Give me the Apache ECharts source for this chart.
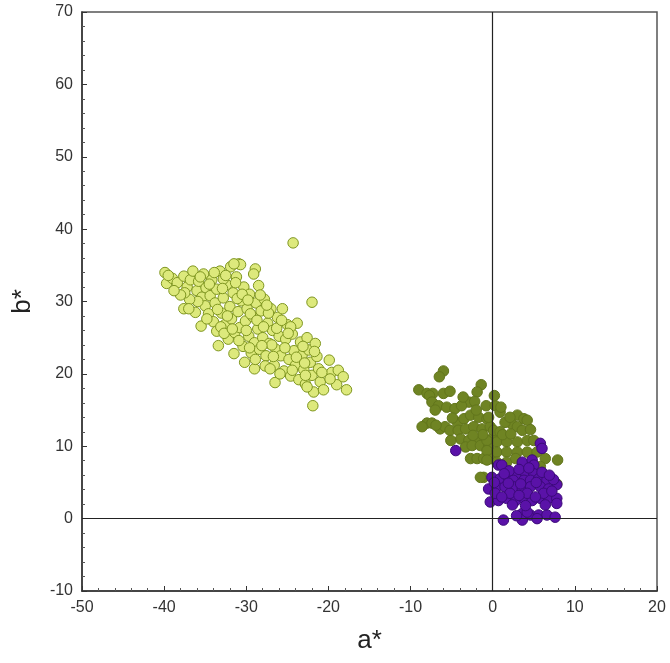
<!DOCTYPE html>
<html>
<head>
<meta charset="utf-8">
<script src="https://cdn.jsdelivr.net/npm/echarts@6/dist/echarts.min.js"></script>
<style>
  html, body { margin: 0; padding: 0; background: #fff; }
  #main { width: 670px; height: 663px; }
</style>
</head>
<body>
<div id="main"></div>
<script>
// axis ticks
var xTicks = [-50, -40, -30, -20, -10, 0, 10, 20];
var yTicks = [-10, 0, 10, 20, 30, 40, 50, 60, 70];

// light yellow-green group [a*, b*]
var yellowPts = [
    [-39.9,34.0],[-39.7,32.5],[-39.0,33.2],[-38.4,32.6],[-37.6,33.5],[-37.2,32.0],[-36.8,33.0],[-36.5,34.2],
    [-36.0,31.5],[-35.8,32.8],[-35.4,30.6],[-35.2,33.8],[-35.0,29.4],[-34.9,31.9],[-34.6,28.3],[-34.4,30.8],
    [-34.2,33.0],[-34.0,27.2],[-33.8,29.8],[-33.6,31.7],[-33.6,25.9],[-35.5,26.6],[-36.2,28.5],[-35.9,30.0],
    [-36.9,30.3],[-37.5,31.2],[-38.0,30.9],[-37.6,29.0],[-37.0,29.0],[-38.8,31.5],[-39.5,33.6],
    [-33.2,34.2],[-33.0,28.4],[-32.8,30.5],[-32.6,26.8],[-32.4,32.3],[-32.2,24.8],[-32.0,29.3],[-31.8,27.6],
    [-31.6,31.2],[-31.4,25.7],[-31.2,33.4],[-31.0,28.6],[-30.9,35.2],[-30.8,26.4],[-30.6,30.1],[-30.4,23.8],
    [-30.3,32.0],[-30.1,27.3],[-29.9,29.0],[-29.7,25.2],[-29.6,31.0],[-29.4,22.9],[-29.2,27.9],[-29.0,24.3],
    [-28.9,34.5],[-28.8,29.8],[-28.6,26.2],[-28.4,23.4],[-28.2,28.7],[-28.0,25.0],[-27.8,30.3],[-27.6,22.5],
    [-27.4,27.0],[-27.2,24.2],[-27.0,29.0],[-26.8,26.0],[-26.6,21.2],[-26.4,23.4],[-26.2,27.8],[-26.0,25.2],
    [-32.8,33.1],[-31.5,22.8],[-30.2,21.6],[-33.4,23.9],[-29.0,20.7],[-28.5,32.2],[-27.7,21.1],[-31.9,34.8],
    [-30.7,35.1],[-29.1,33.8],[-31.5,35.2],[-34.8,27.6],[-33.1,26.5],[-32.3,28.0],[-31.1,30.4],[-30.0,26.0],
    [-29.5,28.3],[-28.7,27.4],[-27.9,26.5],[-27.3,28.4],[-26.9,24.0],[-26.3,26.3],[-32.9,31.8],[-34.5,32.4],
    [-33.9,34.0],[-35.6,33.4],[-32.5,33.6],[-31.3,32.6],[-30.5,31.0],[-29.8,30.2],[-28.3,30.9],[-27.5,29.5],
    [-33.5,28.9],[-32.7,25.6],[-31.7,26.2],[-30.9,24.6],[-29.6,23.6],[-28.9,22.0],[-28.1,23.9],
    [-25.8,22.5],[-25.6,29.0],[-25.4,20.4],[-25.2,24.8],[-25.0,26.8],[-24.8,22.0],[-24.6,19.7],[-24.4,25.5],
    [-24.2,23.2],[-24.0,21.2],[-23.8,27.0],[-23.6,19.2],[-23.4,24.4],[-23.2,22.6],[-23.0,20.6],[-22.8,18.6],
    [-22.6,25.0],[-22.4,23.3],[-22.2,21.6],[-22.0,29.9],[-22.0,19.8],[-21.8,17.5],[-21.9,15.6],[-21.6,24.2],
    [-21.4,22.4],[-21.2,20.7],[-21.0,18.9],[-20.6,17.8],[-19.9,21.9],[-19.6,20.2],[-19.0,18.5],[-18.8,20.5],
    [-18.2,19.6],[-17.8,17.8],[-19.8,19.3],[-22.6,18.2],[-24.3,38.1],[-26.5,18.8],[-25.9,20.0],[-24.6,26.5],
    [-27.1,20.7],[-24.4,20.5],[-22.8,19.8],[-25.3,23.6],[-24.9,25.6],[-23.9,22.3],[-23.1,23.8],[-25.7,27.4],
    [-26.7,22.4],[-22.9,21.5],[-21.7,23.1],[-20.8,20.2]
];

// olive group
var olivePts = [
    [-6.0,20.4],[-6.5,19.6],[-9.0,17.8],[-8.0,17.3],[-7.3,17.3],[-6.0,17.3],[-5.2,17.6],[-1.4,18.5],
    [-1.9,17.5],[-7.7,17.0],[-7.4,16.1],[-6.6,15.6],[-5.6,15.4],[-4.6,15.2],[-2.9,16.1],[-2.2,16.2],
    [-0.8,15.6],[0.3,15.6],[-7.0,15.0],[-8.0,13.2],[-7.4,13.2],[-6.4,12.4],[-5.8,12.7],[-5.2,12.2],
    [-4.3,13.3],[-3.5,13.8],[-2.7,14.3],[-1.7,14.0],[-0.7,13.8],[-4.2,12.2],[-3.3,12.4],[-2.3,12.7],
    [-1.3,12.4],[-0.3,12.7],[-3.9,11.0],[-2.9,10.8],[-1.9,10.6],[-0.9,10.8],[0.1,11.3],[-3.3,9.9],
    [-2.5,10.1],[-1.5,10.1],[-0.5,9.9],[-2.7,8.3],[-1.9,8.3],[-1.1,8.3],[-0.3,8.3],[0.9,14.7],
    [-0.5,14.0],[3.0,14.3],[3.8,13.8],[4.2,13.6],[2.3,13.1],[1.5,13.3],[3.0,12.7],[3.6,12.2],
    [0.1,12.2],[0.9,12.0],[-0.7,10.8],[0.5,10.6],[1.7,10.6],[3.0,10.6],[4.2,10.8],[5.0,10.8],
    [-0.7,9.4],[0.5,9.2],[1.7,9.2],[3.0,9.2],[4.2,9.2],[5.4,9.2],[6.4,8.3],[7.9,8.1],
    [-0.7,8.1],[0.5,7.8],[1.7,7.8],[2.8,8.3],[7.0,5.7],[-1.1,5.7],[7.8,4.8],[-1.5,5.7],
    [-4.9,13.9],[-6.9,12.9],[-3.8,15.6],[-2.0,15.0],[1.2,11.6],[2.2,11.7],[-1.2,11.6],[-2.4,11.5],
    [1.0,15.4],[2.1,14.0],[4.6,12.3],[-5.1,10.8],[-3.6,16.8],[0.2,17.0],[-8.6,12.7],[5.8,7.2]
];

// purple group
var purplePts = [
    [-4.5,9.4],[0.7,7.4],[5.8,10.4],[6.0,9.7],[1.1,7.4],[3.6,7.8],[4.8,8.1],[5.0,7.4],
    [-0.1,5.7],[0.9,5.5],[1.9,5.7],[3.0,6.0],[4.0,6.2],[5.0,6.2],[2.5,5.3],[3.8,5.3],
    [4.6,5.3],[5.6,5.5],[6.6,5.3],[7.8,4.7],[-0.5,4.1],[0.5,4.4],[1.5,4.4],[2.5,4.4],
    [3.6,4.1],[4.6,4.4],[5.8,4.4],[6.8,4.1],[-0.3,2.3],[0.7,2.5],[1.7,2.8],[2.8,2.5],
    [3.8,2.8],[4.8,2.5],[5.8,2.8],[6.8,2.8],[7.8,2.8],[0.3,3.5],[2.1,3.5],[4.2,3.5],
    [6.2,3.5],[7.8,2.1],[1.3,-0.2],[3.6,0.7],[3.6,-0.2],[4.6,0.5],[5.6,0.5],[6.6,0.5],
    [7.6,0.2],[4.2,0.9],[2.0,6.6],[3.2,6.8],[4.4,7.0],[6.0,6.4],[1.4,6.2],[7.2,3.8],
    [5.2,3.0],[3.2,3.2],[1.1,3.0],[6.4,1.9],[2.4,1.9],[4.0,1.8],[5.3,5.0],[3.4,4.8],
    [1.9,4.9],[0.2,5.0],[7.4,5.4],[5.4,0.0],[2.9,0.4],[6.9,6.0]
];

var chart = echarts.init(document.getElementById('main'));

var txt = { color: '#333', fontFamily: 'Liberation Sans, Arial, sans-serif', fontSize: 16 };

var option = {
    backgroundColor: '#fff',
    animation: false,
    grid: {
        left: 82, right: 13, top: 12, bottom: 72,
        show: true, borderColor: '#555', borderWidth: 1.5
    },
    xAxis: {
        type: 'value', min: -50, max: 20, interval: 10,
        name: 'a*', nameLocation: 'middle', nameGap: 37,
        nameTextStyle: { color: '#222', fontFamily: 'Liberation Sans, Arial, sans-serif', fontSize: 26 },
        axisLine: { show: true, onZero: false, lineStyle: { color: '#333', width: 1.5 } },
        axisTick: { show: true, inside: true, length: 5, lineStyle: { color: '#333' } },
        minorTick: { show: true, splitNumber: 5, length: 3, lineStyle: { color: '#555' } },
        splitLine: { show: false },
        axisLabel: Object.assign({ margin: 9, formatter: function (v) { return xTicks.indexOf(v) >= 0 ? String(v) : ''; } }, txt)
    },
    yAxis: {
        type: 'value', min: -10, max: 70, interval: 10,
        name: 'b*', nameLocation: 'middle', nameGap: 46, nameRotate: 90,
        nameTextStyle: { color: '#222', fontFamily: 'Liberation Sans, Arial, sans-serif', fontSize: 26 },
        axisLine: { show: true, onZero: false, lineStyle: { color: '#333', width: 1.5 } },
        axisTick: { show: true, inside: true, length: 5, lineStyle: { color: '#333' } },
        minorTick: { show: true, splitNumber: 5, length: 3, lineStyle: { color: '#555' } },
        splitLine: { show: false },
        axisLabel: Object.assign({ margin: 9, formatter: function (v) { return yTicks.indexOf(v) >= 0 ? String(v) : ''; } }, txt)
    },
    series: [
        {
            type: 'scatter', data: yellowPts, symbolSize: 10.5,
            itemStyle: { color: '#dde97c', borderColor: '#7f9620', borderWidth: 1, opacity: 1 },
            markLine: {
                silent: true, symbol: 'none', label: { show: false },
                lineStyle: { color: '#222', width: 1.2, type: 'solid' },
                data: [{ xAxis: 0 }, { yAxis: 0 }]
            }
        },
        {
            type: 'scatter', data: olivePts, symbolSize: 10.5,
            itemStyle: { color: '#6f8423', borderColor: '#62761c', borderWidth: 1, opacity: 1 }
        },
        {
            type: 'scatter', data: purplePts, symbolSize: 10.5,
            itemStyle: { color: '#5a12a8', borderColor: '#3c0a7a', borderWidth: 1, opacity: 1 }
        }
    ]
};

chart.setOption(option);
</script>
</body>
</html>
